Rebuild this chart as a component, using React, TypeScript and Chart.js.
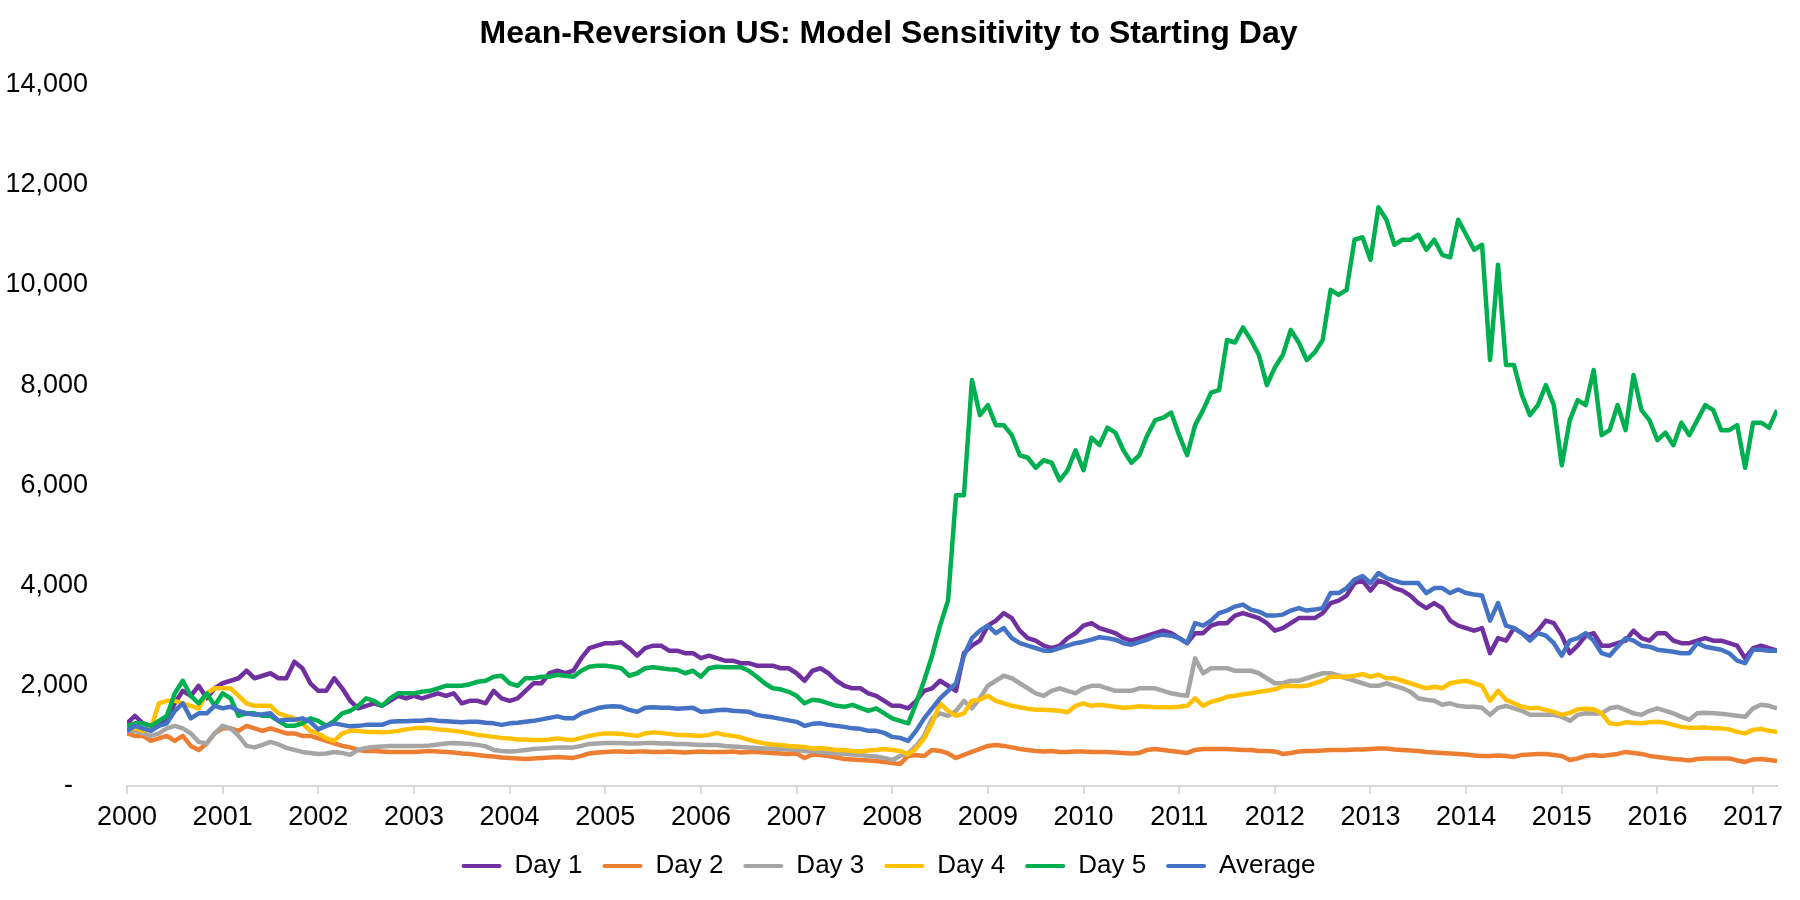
import React, { useEffect, useRef } from "react";
import { Chart, registerables } from "chart.js";

Chart.register(...registerables);

const FONT = '"Liberation Sans", Arial, Helvetica, sans-serif';
const TITLE = "Mean-Reversion US: Model Sensitivity to Starting Day";

const seriesNames = ["Day 1", "Day 2", "Day 3", "Day 4", "Day 5", "Average"];
const seriesColors = ["#7030A0", "#ED7D31", "#A5A5A5", "#FFC000", "#00B050", "#4472C4"];

// Monthly observations, Jan 2000 .. Apr 2017
const day1 = [
  1250, 1400, 1250, 1200, 1250, 1350, 1650, 1900, 1800, 2000, 1750, 1950, 2050, 2100, 2150, 2300, 2150, 2200, 2250, 2150,
  2150, 2480, 2350, 2050, 1900, 1900, 2150, 1950, 1700, 1550, 1600, 1650, 1600, 1700, 1800, 1750, 1800, 1750, 1800, 1850,
  1800, 1850, 1650, 1700, 1700, 1650, 1900, 1750, 1700, 1750, 1900, 2050, 2050, 2250, 2300,
  2250, 2300, 2550, 2750, 2800, 2850, 2850, 2870, 2750, 2600, 2750, 2800, 2800, 2700, 2700, 2650, 2650, 2550, 2600, 2550,
  2500, 2500, 2450, 2450, 2400, 2400, 2400, 2350, 2350, 2250, 2100, 2300, 2350, 2250, 2100, 2000, 1950, 1950, 1850, 1800,
  1700, 1600, 1600, 1550, 1700, 1900, 1950, 2100, 2000, 1900, 2650, 2800, 2900,
  3200, 3300, 3450, 3350, 3100, 2950, 2900, 2800, 2750, 2800, 2950, 3050, 3200, 3250, 3150, 3100, 3050, 2950, 2900, 2950,
  3000, 3050, 3100, 3050, 2950, 2850, 3050, 3050, 3200, 3250, 3250, 3400, 3450, 3400, 3350, 3250, 3100, 3150, 3250, 3350,
  3350, 3350, 3450, 3650, 3700, 3800, 4050, 4100, 3900, 4100,
  4050, 3950, 3900, 3800, 3650, 3550, 3650, 3550, 3300, 3200, 3150, 3100, 3150, 2650, 2950, 2900, 3150, 3050, 2950, 3100,
  3300, 3250, 3000, 2650, 2800, 3000, 3050, 2800, 2800, 2850, 2900, 3100, 2950, 2900, 3050, 3050, 2900, 2850, 2850, 2900,
  2950, 2900, 2900, 2850, 2800, 2550, 2750, 2800, 2750, 2700,
];

const day2 = [
  1050, 1000, 1000, 900, 950, 1000, 900, 1000, 800, 720, 850, 1050, 1150, 1150, 1100, 1200, 1150, 1100, 1150, 1100,
  1050, 1050, 1000, 1000, 950, 900, 850, 800, 770, 720, 700, 700, 690, 680, 680, 680, 680, 690, 700, 690,
  680, 670, 650, 640, 620, 600, 590, 570, 560, 550, 540, 550, 560, 570, 580,
  570, 560, 600, 650, 670, 680, 690, 690, 680, 690, 690, 680, 680, 690, 680, 670, 680, 690, 680, 680,
  680, 690, 670, 680, 680, 670, 660, 650, 640, 650, 560, 630, 620, 600, 570, 540, 530, 520, 510, 500,
  480, 460, 440, 600, 620, 600, 720, 700, 650, 560, 620, 680, 740,
  800, 820, 800, 770, 740, 720, 700, 690, 700, 680, 680, 690, 690, 680, 680, 680, 670, 660, 650, 660,
  720, 740, 720, 700, 680, 660, 720, 740, 740, 740, 740, 730, 720, 720, 700, 700, 690, 640, 660, 690,
  700, 700, 710, 720, 720, 720, 730, 730, 740, 750,
  750, 730, 720, 710, 700, 680, 670, 660, 650, 640, 630, 610, 600, 600, 610, 600, 580, 620, 630, 640,
  640, 620, 600, 520, 550, 600, 620, 600, 620, 640, 680, 660, 640, 600, 580, 560, 540, 530, 510, 540,
  550, 550, 550, 550, 510, 480, 530, 540, 520, 500,
];

const day3 = [
  1100, 1100, 1050, 1000, 1050, 1150, 1200, 1150, 1050, 880, 850, 1050, 1200, 1150, 1000, 800, 770, 820, 880, 830,
  760, 720, 680, 660, 640, 650, 680, 660, 620, 720, 760, 780, 790, 800, 800, 800, 800, 800, 810, 830,
  850, 860, 850, 840, 820, 790, 720, 700, 690, 700, 720, 740, 750, 760, 770,
  770, 770, 800, 840, 850, 860, 860, 860, 850, 850, 860, 860, 850, 850, 840, 840, 830, 820, 820, 820,
  800, 790, 780, 770, 760, 750, 750, 740, 730, 720, 700, 690, 680, 660, 650, 640, 630, 620, 600, 590,
  560, 520, 600, 650, 800, 1000, 1350, 1450, 1400, 1500, 1700, 1550, 1750,
  2000, 2100, 2200, 2150, 2050, 1950, 1850, 1800, 1900, 1950, 1900, 1850, 1950, 2000, 2000, 1950, 1900, 1900, 1900, 1950,
  1950, 1950, 1900, 1850, 1820, 1800, 2550, 2250, 2350, 2350, 2350, 2300, 2300, 2300, 2250, 2150, 2050, 2050, 2100, 2100,
  2150, 2200, 2250, 2250, 2200, 2150, 2100, 2050, 2000, 2000,
  2050, 2000, 1950, 1880, 1750, 1720, 1700, 1620, 1650, 1600, 1580, 1580, 1560, 1420, 1560, 1600, 1550, 1500, 1420, 1420,
  1420, 1420, 1380, 1300, 1420, 1450, 1440, 1450, 1550, 1580, 1520, 1450, 1420, 1500, 1550, 1500, 1450, 1380, 1320, 1450,
  1460, 1450, 1440, 1420, 1400, 1380, 1550, 1620, 1600, 1550,
];

const day4 = [
  1150, 1150, 1100, 1150, 1650, 1700, 1700, 1650, 1600, 1550, 1850, 1950, 1950, 1950, 1800, 1650, 1600, 1600, 1600, 1450,
  1400, 1350, 1250, 1100, 1050, 950, 900, 1050, 1100, 1100, 1080, 1080, 1070, 1080, 1100, 1130, 1150, 1160, 1150, 1130,
  1120, 1100, 1080, 1050, 1020, 1000, 980, 960, 950, 930, 930, 920, 920, 930, 950,
  930, 920, 960, 1000, 1030, 1050, 1050, 1040, 1020, 1000, 1050, 1070, 1060, 1040, 1020, 1020, 1010, 1000, 1020, 1060,
  1020, 1000, 970, 920, 880, 850, 830, 820, 800, 790, 780, 750, 760, 740, 720, 720, 700, 690, 710, 720,
  740, 720, 700, 630, 750, 950, 1250, 1650, 1500, 1400, 1450, 1700, 1720,
  1800, 1700, 1650, 1600, 1570, 1540, 1520, 1520, 1510, 1500, 1470, 1600, 1650, 1600, 1620, 1600, 1580, 1560, 1570, 1590,
  1580, 1570, 1570, 1570, 1580, 1600, 1750, 1600, 1680, 1720, 1780, 1800, 1830, 1850, 1880, 1900, 1930, 1990, 2000, 1990,
  2000, 2050, 2100, 2180, 2180, 2180, 2200, 2230, 2180, 2220,
  2150, 2150, 2100, 2050, 2000, 1950, 1980, 1950, 2050, 2080, 2100, 2050, 2000, 1700, 1900, 1720, 1650, 1580, 1550, 1560,
  1520, 1480, 1420, 1460, 1530, 1540, 1530, 1450, 1250, 1230, 1270, 1260, 1250, 1270, 1280, 1260, 1220, 1180, 1160, 1160,
  1170, 1150, 1150, 1130, 1080, 1050, 1120, 1140, 1100, 1080,
];

const day5 = [
  1200, 1250, 1250, 1200, 1300, 1400, 1850, 2100, 1800, 1650, 1850, 1600, 1850, 1750, 1400, 1450, 1450, 1400, 1400, 1300,
  1200, 1200, 1250, 1350, 1300, 1200, 1300, 1450, 1500, 1600, 1750, 1700, 1600, 1750, 1850, 1850, 1850, 1880, 1900, 1950,
  2000, 2000, 2000, 2030, 2080, 2100, 2180, 2200, 2050, 2000, 2150, 2150, 2180, 2180, 2220,
  2200, 2180, 2300, 2380, 2400, 2400, 2380, 2350, 2200, 2250, 2350, 2370, 2350, 2330, 2320, 2250, 2300, 2180, 2350, 2380,
  2370, 2370, 2370, 2300, 2180, 2050, 1950, 1930, 1880, 1800, 1650, 1720, 1700, 1650, 1600, 1580, 1620, 1560, 1500, 1550,
  1450, 1350, 1300, 1250, 1650, 2100, 2600, 3200, 3700, 5800, 5800, 8100, 7400,
  7600, 7200, 7200, 7000, 6600, 6550, 6350, 6500, 6450, 6100, 6300, 6700, 6300, 6950, 6800, 7150, 7050, 6700, 6450, 6600,
  7000, 7300, 7350, 7450, 7000, 6600, 7200, 7500, 7850, 7900, 8900, 8850, 9150, 8900, 8600, 8000, 8350, 8600, 9100, 8850,
  8500, 8650, 8900, 9900, 9800, 9900, 10900, 10950, 10500, 11550,
  11300, 10800, 10900, 10900, 11000, 10700, 10900, 10600, 10550, 11300, 11000, 10700, 10800, 8500, 10400, 8400, 8400, 7800, 7400, 7600,
  8000, 7600, 6400, 7300, 7700, 7600, 8300, 7000, 7100, 7600, 7100, 8200, 7500, 7300, 6900, 7050, 6800, 7250, 7000, 7300,
  7600, 7500, 7100, 7100, 7200, 6350, 7250, 7250, 7150, 7500,
];

const average = [
  1100, 1200, 1150, 1100, 1200, 1250, 1500, 1650, 1350, 1450, 1450, 1600, 1550, 1580, 1500, 1450, 1420, 1430, 1450, 1300,
  1320, 1320, 1350, 1280, 1130, 1200, 1250, 1220, 1190, 1200, 1220, 1220, 1220, 1280, 1290, 1290, 1300, 1300, 1320, 1300,
  1290, 1280, 1270, 1280, 1280, 1260, 1250, 1220, 1250, 1260, 1280, 1300, 1330, 1360, 1390,
  1350, 1350, 1450, 1500, 1550, 1580, 1590, 1580, 1520, 1480, 1560, 1570, 1560, 1560, 1540, 1550, 1560, 1480, 1490, 1510,
  1520, 1500, 1490, 1480, 1420, 1390, 1370, 1340, 1310, 1280, 1200, 1240, 1250, 1220, 1200, 1180, 1150, 1140, 1100, 1100,
  1060, 980, 960, 900, 1100, 1350, 1550, 1750, 1900, 2050, 2600, 2950, 3100,
  3200, 3050, 3150, 2950, 2850, 2800, 2750, 2700, 2700, 2750, 2800, 2850, 2880, 2920, 2970, 2950, 2920, 2850, 2820, 2870,
  2920, 2990, 3020, 3000, 2950, 2850, 3250, 3200, 3300, 3450, 3500, 3580, 3620, 3520, 3480, 3400, 3400, 3420, 3500, 3550,
  3500, 3520, 3550, 3850, 3850, 3950, 4120, 4190, 4050, 4250,
  4150, 4100, 4050, 4050, 4050, 3850, 3950, 3950, 3850, 3920, 3850, 3820, 3800, 3300, 3650, 3200, 3150, 3050, 2900, 3050,
  3000, 2850, 2600, 2900, 2950, 3050, 2900, 2650, 2600, 2780, 2950, 2900, 2800, 2780, 2720, 2700, 2680, 2650, 2650, 2850,
  2780, 2750, 2720, 2650, 2500, 2450, 2720, 2720, 2700, 2700,
];

const seriesValues = [day1, day2, day3, day4, day5, average];

// Month labels "YYYY-MM" for each observation
const firstYear = 2000;
const monthLabels: string[] = day1.map(
  (_, i) => `${firstYear + Math.floor(i / 12)}-${String((i % 12) + 1).padStart(2, "0")}`
);
const labelToYear = (label: string) => {
  const [y, m] = label.split("-").map(Number);
  return y + (m - 1) / 12;
};

const yTicks = { min: 0, max: 14000, step: 2000 };
const xRange = { min: 2000, max: 2017.25 };

export default function App() {
  const canvasRef = useRef<HTMLCanvasElement | null>(null);

  useEffect(() => {
    document.body.style.margin = "0";
    const canvas = canvasRef.current;
    if (!canvas) return;

    const datasets = seriesNames.map((name, si) => ({
      label: name,
      data: seriesValues[si].map((v, i) => ({ x: labelToYear(monthLabels[i]), y: v })),
      borderColor: seriesColors[si],
      backgroundColor: seriesColors[si],
      borderWidth: 4.5,
      pointRadius: 0,
      tension: 0,
      fill: false,
      borderJoinStyle: "round",
      order: seriesNames.length - si,
    }));

    const chart = new Chart(canvas, {
      type: "line",
      data: { datasets },
      options: {
        responsive: true,
        maintainAspectRatio: false,
        animation: false,
        layout: { padding: { left: 0, right: 23, top: 0, bottom: 11 } },
        plugins: {
          title: {
            display: true,
            text: TITLE,
            color: "#000",
            font: { family: FONT, size: 32, weight: "bold" },
            padding: { top: 15, bottom: 31 },
          },
          legend: {
            position: "bottom",
            labels: {
              color: "#000",
              font: { family: FONT, size: 26 },
              boxWidth: 40,
              boxHeight: 4,
              padding: 20,
              useBorderRadius: true,
              borderRadius: 2,
              sort: (a: any, b: any) => a.datasetIndex - b.datasetIndex,
              generateLabels: (ch: any) =>
                Chart.defaults.plugins.legend.labels.generateLabels(ch).map((l: any) => ({
                  ...l,
                  lineWidth: 0,
                  fillStyle: l.strokeStyle,
                })),
            },
          },
          tooltip: { enabled: false },
        },
        scales: {
          x: {
            type: "linear",
            min: xRange.min,
            max: xRange.max,
            afterFit: (scale: any) => {
              scale.height = 47;
            },
            border: { display: true, color: "#d9d9d9", width: 2 },
            grid: {
              display: true,
              drawOnChartArea: false,
              drawTicks: true,
              tickLength: 8,
              color: "#d9d9d9",
              lineWidth: 2,
            },
            ticks: {
              stepSize: 1,
              includeBounds: false,
              autoSkip: false,
              maxRotation: 0,
              padding: 7,
              color: "#000",
              font: { family: FONT, size: 27 },
              callback: (v: any) => String(v),
            },
          },
          y: {
            min: yTicks.min,
            max: yTicks.max,
            afterFit: (scale: any) => {
              scale.width = 127;
            },
            border: { display: false },
            grid: { display: false },
            ticks: {
              stepSize: yTicks.step,
              padding: 31,
              color: "#000",
              font: { family: FONT, size: 27 },
              callback: (v: any) => (Number(v) === 0 ? "-  " : Number(v).toLocaleString("en-US")),
            },
          },
        },
      } as any,
    });

    return () => chart.destroy();
  }, []);

  return (
    <div style={{ width: "1800px", height: "900px", position: "relative", background: "#fff" }}>
      <canvas ref={canvasRef} />
    </div>
  );
}
